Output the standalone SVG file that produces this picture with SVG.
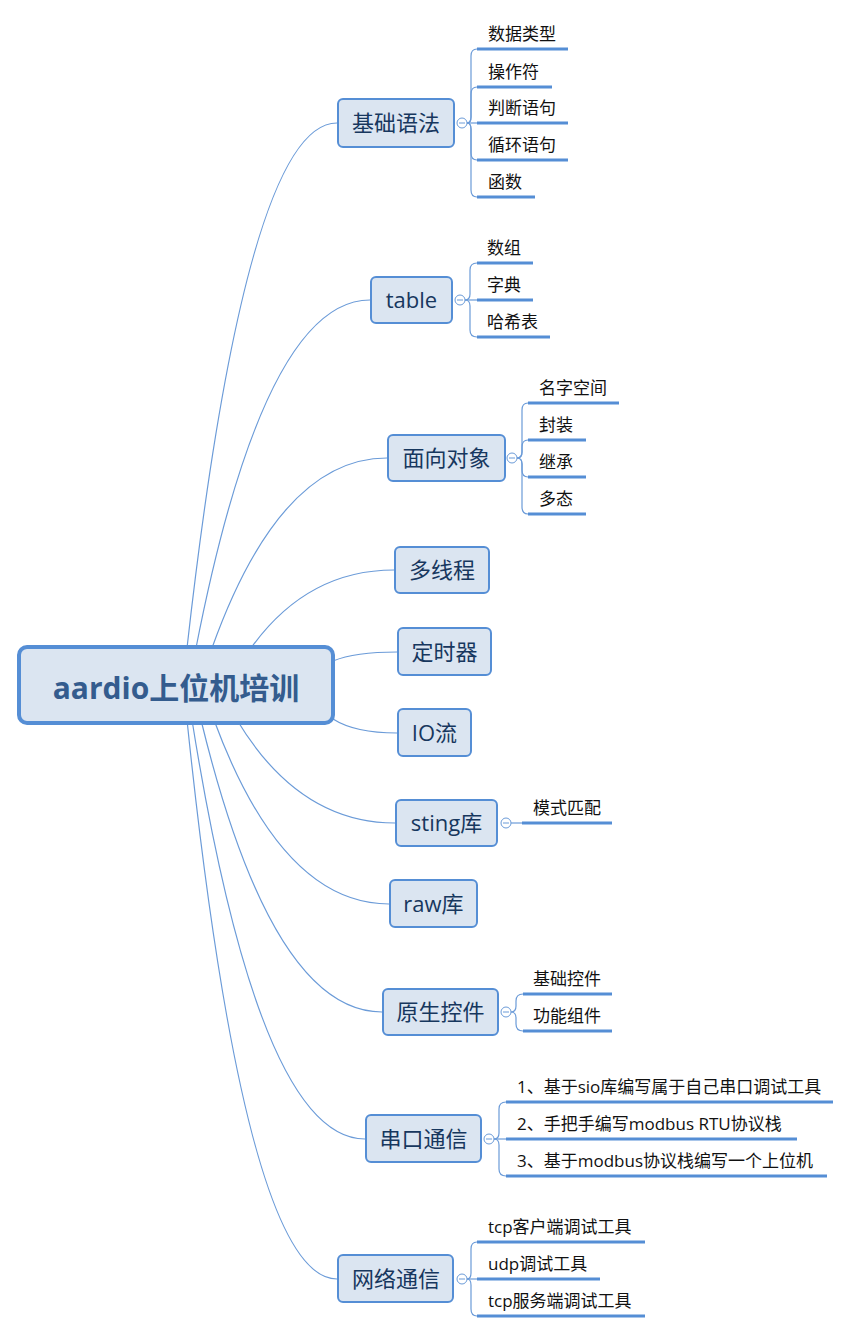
<svg xmlns="http://www.w3.org/2000/svg" width="852" height="1333" viewBox="0 0 852 1333">
<style>
.bg{fill:#ffffff}
.conn{fill:none;stroke:#6b9bd8;stroke-width:1.2}
.spine{fill:none;stroke:#6b9bd8;stroke-width:1.2}
.leafline{stroke:#558ed5;stroke-width:3;stroke-linecap:butt}
.node{fill:#dbe5f1;stroke:#558ed5;stroke-width:2}
.root{fill:#dbe5f1;stroke:#558ed5;stroke-width:4}
.btext{font-family:"Open Sans","Noto Sans CJK SC",sans-serif;font-size:22px;fill:#17375e;text-anchor:middle}
.rtext{font-family:"Open Sans","Noto Sans CJK SC",sans-serif;font-size:30px;font-weight:bold;fill:#345c8e;text-anchor:middle}
.ltext{font-family:"Open Sans","Noto Sans CJK SC",sans-serif;font-size:17px;fill:#111111}
.col{fill:#ffffff;stroke:#6b9bd8;stroke-width:1}
.minus{stroke:#6b9bd8;stroke-width:1}
</style>
<rect class="bg" x="0" y="0" width="852" height="1333"/>
<g id="connectors">
<path class="conn" d="M187,648 Q246,123 337,123"/>
<path class="conn" d="M196,648 Q264,300 370,300"/>
<path class="conn" d="M212,648 Q280,458 387,458"/>
<path class="conn" d="M251,648 Q307,570 394,570"/>
<path class="conn" d="M333,661 Q355,652 397,652"/>
<path class="conn" d="M333,719 Q355,733 397,733"/>
<path class="conn" d="M237,720 Q299,823 395,823"/>
<path class="conn" d="M214,720 Q282,904 389,904"/>
<path class="conn" d="M201,720 Q272,1012 382,1012"/>
<path class="conn" d="M192,720 Q259,1139 365,1139"/>
<path class="conn" d="M187,720 Q245,1279 337,1279"/>
</g>
<g id="root">
<rect class="root" x="19" y="647" width="314" height="76" rx="8"/>
<text class="rtext" x="176" y="699">aardio上位机培训</text>
</g>
<g id="n1">
<rect class="node" x="338" y="99" width="116" height="48" rx="5"/>
<text class="btext" x="396" y="131">基础语法</text>
<path class="spine" d="M467,123 Q471,123 471,117 L471,56 Q471,49 477,49"/>
<path class="spine" d="M467,123 Q471,123 471,117 L471,94 Q471,87 477,87"/>
<path class="spine" d="M467,123 L477,123"/>
<path class="spine" d="M467,123 Q471,123 471,129 L471,153 Q471,160 477,160"/>
<path class="spine" d="M467,123 Q471,123 471,129 L471,190 Q471,197 477,197"/>
<circle class="col" cx="462" cy="123" r="5"/><line class="minus" x1="459" y1="123" x2="465" y2="123"/>
<g id="n1a"><line class="leafline" x1="477" y1="49" x2="568" y2="49"/><text class="ltext" x="488" y="40">数据类型</text></g>
<g id="n1b"><line class="leafline" x1="477" y1="87" x2="552" y2="87"/><text class="ltext" x="488" y="78">操作符</text></g>
<g id="n1c"><line class="leafline" x1="477" y1="123" x2="568" y2="123"/><text class="ltext" x="488" y="114">判断语句</text></g>
<g id="n1d"><line class="leafline" x1="477" y1="160" x2="568" y2="160"/><text class="ltext" x="488" y="151">循环语句</text></g>
<g id="n1e"><line class="leafline" x1="477" y1="197" x2="535" y2="197"/><text class="ltext" x="488" y="188">函数</text></g>
</g>
<g id="n2">
<rect class="node" x="371" y="277" width="81" height="46" rx="5"/>
<text class="btext" x="411.5" y="308">table</text>
<path class="spine" d="M465,300 Q470,300 470,294 L470,270 Q470,263 477,263"/>
<path class="spine" d="M465,300 L477,300"/>
<path class="spine" d="M465,300 Q470,300 470,306 L470,330 Q470,337 477,337"/>
<circle class="col" cx="460" cy="300" r="5"/><line class="minus" x1="457" y1="300" x2="463" y2="300"/>
<g id="n2a"><line class="leafline" x1="477" y1="263" x2="533" y2="263"/><text class="ltext" x="487" y="254">数组</text></g>
<g id="n2b"><line class="leafline" x1="477" y1="300" x2="533" y2="300"/><text class="ltext" x="487" y="291">字典</text></g>
<g id="n2c"><line class="leafline" x1="477" y1="337" x2="550" y2="337"/><text class="ltext" x="487" y="328">哈希表</text></g>
</g>
<g id="n3">
<rect class="node" x="388" y="435" width="117" height="46" rx="5"/>
<text class="btext" x="446.5" y="466">面向对象</text>
<path class="spine" d="M517,458 Q522,458 522,452 L522,410 Q522,403 528,403"/>
<path class="spine" d="M517,458 Q522,458 522,452 L522,447 Q522,440 528,440"/>
<path class="spine" d="M517,458 Q522,458 522,464 L522,470 Q522,477 528,477"/>
<path class="spine" d="M517,458 Q522,458 522,464 L522,507 Q522,514 528,514"/>
<circle class="col" cx="512" cy="458" r="5"/><line class="minus" x1="509" y1="458" x2="515" y2="458"/>
<g id="n3a"><line class="leafline" x1="528" y1="403" x2="619" y2="403"/><text class="ltext" x="539" y="394">名字空间</text></g>
<g id="n3b"><line class="leafline" x1="528" y1="440" x2="586" y2="440"/><text class="ltext" x="539" y="431">封装</text></g>
<g id="n3c"><line class="leafline" x1="528" y1="477" x2="586" y2="477"/><text class="ltext" x="539" y="468">继承</text></g>
<g id="n3d"><line class="leafline" x1="528" y1="514" x2="586" y2="514"/><text class="ltext" x="539" y="505">多态</text></g>
</g>
<g id="n4">
<rect class="node" x="395" y="547" width="94" height="46" rx="5"/>
<text class="btext" x="442" y="578">多线程</text>
</g>
<g id="n5">
<rect class="node" x="398" y="628" width="93" height="47" rx="5"/>
<text class="btext" x="444.5" y="660">定时器</text>
</g>
<g id="n6">
<rect class="node" x="398" y="709" width="73" height="47" rx="5"/>
<text class="btext" x="434.5" y="741">IO流</text>
</g>
<g id="n7">
<rect class="node" x="396" y="800" width="101" height="46" rx="5"/>
<text class="btext" x="446.5" y="831">sting库</text>
<path class="spine" d="M511,823 L522,823"/>
<circle class="col" cx="506" cy="823" r="5"/><line class="minus" x1="503" y1="823" x2="509" y2="823"/>
<g id="n7a"><line class="leafline" x1="522" y1="823" x2="612" y2="823"/><text class="ltext" x="533" y="814">模式匹配</text></g>
</g>
<g id="n8">
<rect class="node" x="390" y="880" width="87" height="47" rx="5"/>
<text class="btext" x="433.5" y="912">raw库</text>
</g>
<g id="n9">
<rect class="node" x="383" y="989" width="115" height="46" rx="5"/>
<text class="btext" x="440.5" y="1020">原生控件</text>
<path class="spine" d="M511,1012 Q516,1012 516,1006 L516,1001 Q516,994 523,994"/>
<path class="spine" d="M511,1012 Q516,1012 516,1018 L516,1024 Q516,1031 523,1031"/>
<circle class="col" cx="506" cy="1012" r="5"/><line class="minus" x1="503" y1="1012" x2="509" y2="1012"/>
<g id="n9a"><line class="leafline" x1="523" y1="994" x2="612" y2="994"/><text class="ltext" x="533" y="985">基础控件</text></g>
<g id="n9b"><line class="leafline" x1="523" y1="1031" x2="612" y2="1031"/><text class="ltext" x="533" y="1022">功能组件</text></g>
</g>
<g id="n10">
<rect class="node" x="366" y="1115" width="115" height="47" rx="5"/>
<text class="btext" x="423.5" y="1147">串口通信</text>
<path class="spine" d="M494,1139 Q499,1139 499,1133 L499,1109 Q499,1102 506,1102"/>
<path class="spine" d="M494,1139 L506,1139"/>
<path class="spine" d="M494,1139 Q499,1139 499,1145 L499,1169 Q499,1176 506,1176"/>
<circle class="col" cx="489" cy="1139" r="5"/><line class="minus" x1="486" y1="1139" x2="492" y2="1139"/>
<g id="n10a"><line class="leafline" x1="506" y1="1102" x2="833" y2="1102"/><text class="ltext" x="517" y="1093">1、基于sio库编写属于自己串口调试工具</text></g>
<g id="n10b"><line class="leafline" x1="506" y1="1139" x2="797" y2="1139"/><text class="ltext" x="517" y="1130">2、手把手编写modbus RTU协议栈</text></g>
<g id="n10c"><line class="leafline" x1="506" y1="1176" x2="827" y2="1176"/><text class="ltext" x="517" y="1167">3、基于modbus协议栈编写一个上位机</text></g>
</g>
<g id="n11">
<rect class="node" x="338" y="1255" width="115" height="47" rx="5"/>
<text class="btext" x="396" y="1287">网络通信</text>
<path class="spine" d="M467,1279 Q471,1279 471,1273 L471,1249 Q471,1242 477,1242"/>
<path class="spine" d="M467,1279 L477,1279"/>
<path class="spine" d="M467,1279 Q471,1279 471,1285 L471,1309 Q471,1316 477,1316"/>
<circle class="col" cx="462" cy="1279" r="5"/><line class="minus" x1="459" y1="1279" x2="465" y2="1279"/>
<g id="n11a"><line class="leafline" x1="477" y1="1242" x2="645" y2="1242"/><text class="ltext" x="488" y="1233">tcp客户端调试工具</text></g>
<g id="n11b"><line class="leafline" x1="477" y1="1279" x2="600" y2="1279"/><text class="ltext" x="488" y="1270">udp调试工具</text></g>
<g id="n11c"><line class="leafline" x1="477" y1="1316" x2="645" y2="1316"/><text class="ltext" x="488" y="1307">tcp服务端调试工具</text></g>
</g>
</svg>
